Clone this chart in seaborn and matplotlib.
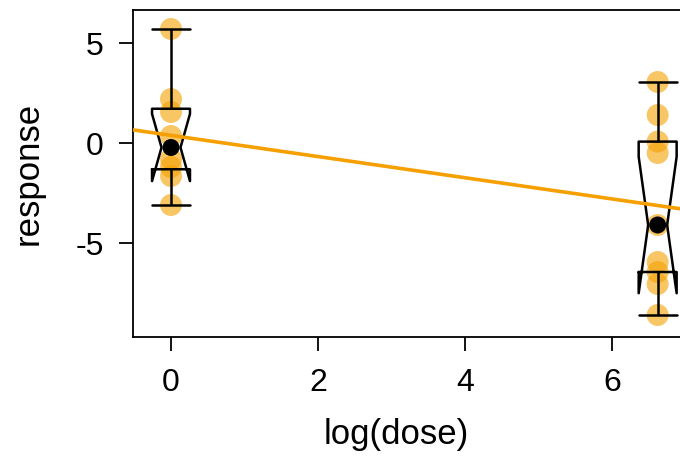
import numpy as np
import pandas as pd
import matplotlib
matplotlib.use("Agg")
import matplotlib.pyplot as plt
import seaborn as sns

# two dose groups, response values
dose = [1] * 8 + [750] * 9
response = [5.7, 2.2, 1.55, 0.35, -0.8, -1.2, -1.65, -3.1,
            3.05, 1.4, 0.07, -0.5, -4.1, -5.95, -6.45, -7.05, -8.6]
x_ticks = [0, 2, 4, 6]
y_ticks = [-5, 0, 5]

ORANGE = "#F5A000"

df = pd.DataFrame({"dose": dose, "response": response})
df["logdose"] = np.log(df["dose"])
medians = df.groupby("logdose", as_index=False)["response"].median()
native_w = np.diff(np.sort(df["logdose"].unique())).min()

sns.set_theme(style="ticks")
plt.rcParams["font.family"] = ["Liberation Sans", "DejaVu Sans"]

fig = plt.figure(figsize=(6.8, 4.57), dpi=100)
ax = fig.add_axes([133 / 680, 120 / 457, 557 / 680, 327 / 457])
ax.set_xlim(-0.517, 7.06)
ax.set_ylim(-9.7, 6.65)

sns.scatterplot(data=df, x="logdose", y="response", color=ORANGE, alpha=0.6,
                s=250, edgecolor="none", ax=ax, zorder=2)

box_w = 0.078
sns.boxplot(data=df, x="logdose", y="response", native_scale=True, notch=True,
            whis=(0, 100), width=box_w, fill=False, color="black", linecolor="black",
            linewidth=1.8, medianprops={"visible": False},
            capwidths=box_w * native_w, ax=ax, zorder=3)

sns.regplot(data=df, x="logdose", y="response", scatter=False, ci=None,
            truncate=False, color=ORANGE, line_kws={"linewidth": 2.6, "zorder": 4}, ax=ax)

sns.scatterplot(data=medians, x="logdose", y="response", color="black", s=150,
                edgecolor="none", ax=ax, zorder=5)

ax.set_xlim(-0.517, 7.06)
ax.set_ylim(-9.7, 6.65)
ax.set_xticks(x_ticks)
ax.set_yticks(y_ticks)
ax.set_xticklabels([str(t) for t in x_ticks])
ax.set_yticklabels([str(t) for t in y_ticks])

for sp in ax.spines.values():
    sp.set_color("black")
    sp.set_linewidth(1.3)

ax.tick_params(axis="both", direction="out", length=10, width=1.3,
               colors="black", labelsize=23)
ax.tick_params(axis="x", pad=12.5)
ax.tick_params(axis="y", pad=11)

ax.set_xlabel("log(dose)", fontsize=25, color="black")
ax.set_ylabel("response", fontsize=25, color="black")
ax.xaxis.set_label_coords((396 - 133) / 557, (337 - 418) / 327)
ax.yaxis.set_label_coords((45 - 133) / 557, 0.5)

fig.savefig("out.png", dpi=100)
